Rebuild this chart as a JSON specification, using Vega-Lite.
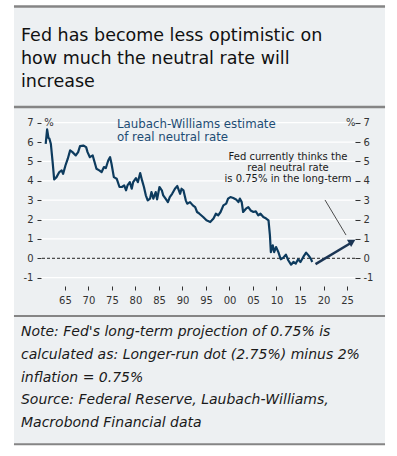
{
  "$schema": "https://vega.github.io/schema/vega-lite/v6.json",
  "width": 314,
  "height": 173,
  "autosize": {"type": "none"},
  "padding": {"left": 41, "top": 113, "right": 42, "bottom": 170},
  "background": "white",
  "config": {
    "view": {"stroke": null},
    "axis": {"labelOverlap": false, "labelFlush": false, "grid": false, "domain": false, "zindex": 1},
    "axisX": {"tickCount": 20, "labelOverlap": false, "labelFlush": false, "tickSize": 4, "tickColor": "#333333", "labelPadding": 5, "labelFont": "DejaVu Sans", "labelFontSize": 10, "labelColor": "#333333"}
  },
  "title": {
    "text": ["Fed has become less optimistic on", "how much the neutral rate will", "increase"],
    "anchor": "start",
    "frame": "group",
    "dx": -20,
    "offset": -85,
    "font": "DejaVu Sans",
    "fontSize": 17.5,
    "fontWeight": "normal",
    "color": "#111111",
    "lineHeight": 23
  },
  "datasets": {
    "neutral": [
      {"year": 1960.9, "value": 5.91}, {"year": 1961.2, "value": 6.65}, {"year": 1961.5, "value": 6.2}, {"year": 1961.7, "value": 6.17},
      {"year": 1962.0, "value": 5.9}, {"year": 1962.4, "value": 4.9}, {"year": 1962.7, "value": 4.07}, {"year": 1963.2, "value": 4.19},
      {"year": 1963.8, "value": 4.45}, {"year": 1964.3, "value": 4.54}, {"year": 1964.6, "value": 4.36}, {"year": 1965.1, "value": 4.79},
      {"year": 1965.6, "value": 5.14}, {"year": 1966.1, "value": 5.57}, {"year": 1966.6, "value": 5.48}, {"year": 1967.3, "value": 5.31},
      {"year": 1967.8, "value": 5.48}, {"year": 1968.2, "value": 5.79}, {"year": 1968.9, "value": 5.82}, {"year": 1969.5, "value": 5.74},
      {"year": 1969.8, "value": 5.48}, {"year": 1970.3, "value": 5.22}, {"year": 1970.9, "value": 5.31}, {"year": 1971.2, "value": 5.05},
      {"year": 1971.7, "value": 4.62}, {"year": 1972.3, "value": 4.54}, {"year": 1972.8, "value": 4.45}, {"year": 1973.3, "value": 4.71},
      {"year": 1973.7, "value": 4.66}, {"year": 1974.2, "value": 5.05}, {"year": 1974.6, "value": 5.22}, {"year": 1974.9, "value": 4.88},
      {"year": 1975.4, "value": 4.19}, {"year": 1976.0, "value": 4.11}, {"year": 1976.6, "value": 3.68}, {"year": 1977.1, "value": 3.68},
      {"year": 1977.6, "value": 3.76}, {"year": 1978.0, "value": 3.51}, {"year": 1978.3, "value": 3.76}, {"year": 1978.8, "value": 3.93},
      {"year": 1979.2, "value": 3.59}, {"year": 1979.5, "value": 3.93}, {"year": 1980.1, "value": 4.14}, {"year": 1980.5, "value": 3.93},
      {"year": 1981.0, "value": 4.4}, {"year": 1981.4, "value": 4.02}, {"year": 1981.8, "value": 3.68}, {"year": 1982.2, "value": 3.25},
      {"year": 1982.6, "value": 2.99}, {"year": 1983.1, "value": 3.08}, {"year": 1983.4, "value": 3.42}, {"year": 1983.8, "value": 3.08},
      {"year": 1984.3, "value": 3.42}, {"year": 1984.6, "value": 3.04}, {"year": 1985.1, "value": 3.68}, {"year": 1985.6, "value": 3.51},
      {"year": 1985.9, "value": 3.25}, {"year": 1986.4, "value": 3.08}, {"year": 1986.9, "value": 2.9}, {"year": 1987.3, "value": 3.16},
      {"year": 1987.8, "value": 3.33}, {"year": 1988.4, "value": 3.59}, {"year": 1988.9, "value": 3.73}, {"year": 1989.5, "value": 3.33},
      {"year": 1989.8, "value": 3.59}, {"year": 1990.2, "value": 3.51}, {"year": 1990.7, "value": 2.99}, {"year": 1991.0, "value": 2.82},
      {"year": 1991.6, "value": 2.9}, {"year": 1992.2, "value": 2.73}, {"year": 1992.7, "value": 2.64}, {"year": 1993.1, "value": 2.39},
      {"year": 1993.6, "value": 2.3}, {"year": 1994.4, "value": 2.13}, {"year": 1995.1, "value": 1.96}, {"year": 1995.9, "value": 1.87},
      {"year": 1996.6, "value": 2.05}, {"year": 1997.1, "value": 2.3}, {"year": 1997.6, "value": 2.22}, {"year": 1998.1, "value": 2.39},
      {"year": 1998.7, "value": 2.73}, {"year": 1999.3, "value": 2.82}, {"year": 1999.7, "value": 3.08}, {"year": 2000.2, "value": 3.16},
      {"year": 2000.8, "value": 3.11}, {"year": 2001.4, "value": 3.04}, {"year": 2001.9, "value": 2.9}, {"year": 2002.2, "value": 3.08},
      {"year": 2002.6, "value": 2.9}, {"year": 2002.9, "value": 2.39}, {"year": 2003.5, "value": 2.56}, {"year": 2004.0, "value": 2.64},
      {"year": 2004.5, "value": 2.47}, {"year": 2005.1, "value": 2.39}, {"year": 2005.6, "value": 2.42}, {"year": 2006.1, "value": 2.22},
      {"year": 2006.6, "value": 2.3}, {"year": 2007.2, "value": 2.13}, {"year": 2007.8, "value": 2.05}, {"year": 2008.3, "value": 1.96},
      {"year": 2008.6, "value": 1.19}, {"year": 2008.8, "value": 0.32}, {"year": 2009.2, "value": 0.67}, {"year": 2009.5, "value": 0.32},
      {"year": 2009.9, "value": 0.58}, {"year": 2010.4, "value": 0.32}, {"year": 2010.9, "value": -0.05}, {"year": 2011.4, "value": 0.02},
      {"year": 2012.0, "value": 0.19}, {"year": 2012.5, "value": -0.1}, {"year": 2013.1, "value": -0.33}, {"year": 2013.6, "value": -0.19},
      {"year": 2014.1, "value": -0.27}, {"year": 2014.6, "value": -0.05}, {"year": 2015.1, "value": -0.19}, {"year": 2015.7, "value": 0.07},
      {"year": 2016.3, "value": 0.29}, {"year": 2016.8, "value": 0.15}, {"year": 2017.3, "value": -0.02}, {"year": 2017.6, "value": -0.19}
    ],
    "fedArrow": [
      {"year": 2018.3, "value": -0.3},
      {"year": 2025.9, "value": 0.8}
    ],
    "ticks": [
      {"tick": -1}, {"tick": 1}, {"tick": 2}, {"tick": 3}, {"tick": 4}, {"tick": 5}, {"tick": 6}, {"tick": 7}
    ],
    "one": [{}]
  },
  "resolve": {"axis": {"y": "independent"}},
  "layer": [
    {
      "data": {"name": "one"},
      "mark": {"type": "rect", "color": "#edf0f2", "clip": false},
      "encoding": {
        "x": {"datum": 1954.15, "type": "quantitative", "scale": {"domain": [1959.9, 2026.7], "nice": false, "zero": false}},
        "x2": {"datum": 2033.09},
        "y": {"datum": 12.95, "type": "quantitative", "axis": null, "scale": {"domain": [-1.43, 7.5], "nice": false, "zero": false}},
        "y2": {"datum": -9.64}
      }
    },
    {
      "data": {"name": "one"},
      "mark": {"type": "rule", "color": "#858585", "strokeWidth": 2.5, "clip": false},
      "encoding": {
        "x": {"datum": 1954.15, "type": "quantitative"},
        "x2": {"datum": 2033.09},
        "y": {"datum": 13.0, "type": "quantitative", "axis": null}
      }
    },
    {
      "data": {"name": "one"},
      "mark": {"type": "rule", "color": "#858585", "strokeWidth": 2.5, "clip": false},
      "encoding": {
        "x": {"datum": 1954.15, "type": "quantitative"},
        "x2": {"datum": 2033.09},
        "y": {"datum": 7.81, "type": "quantitative", "axis": null}
      }
    },
    {
      "data": {"name": "one"},
      "mark": {"type": "rule", "color": "#858585", "strokeWidth": 2, "clip": false},
      "encoding": {
        "x": {"datum": 1954.15, "type": "quantitative"},
        "x2": {"datum": 2033.09},
        "y": {"datum": -2.98, "type": "quantitative", "axis": null}
      }
    },
    {
      "data": {"name": "one"},
      "mark": {"type": "rule", "color": "#858585", "strokeWidth": 2, "clip": false},
      "encoding": {
        "x": {"datum": 1954.15, "type": "quantitative"},
        "x2": {"datum": 2033.09},
        "y": {"datum": -9.6, "type": "quantitative", "axis": null}
      }
    },
    {
      "data": {"name": "ticks"},
      "mark": {"type": "rule", "color": "white", "strokeWidth": 1.2},
      "encoding": {
        "y": {
          "field": "tick", "type": "quantitative",
          "axis": {
            "orient": "right", "values": [-1, 0, 1, 2, 3, 4, 5, 6, 7], "tickCount": 20, "labelExpr": "toString(datum.value)",
            "domain": false, "grid": false, "tickSize": 5, "tickColor": "#333333", "labelPadding": 3, "labelOverlap": false,
            "labelFont": "DejaVu Sans", "labelFontSize": 10, "labelColor": "#333333", "title": null, "zindex": 1
          }
        }
      }
    },
    {
      "data": {"name": "one"},
      "mark": {"type": "rule", "color": "#222222", "strokeWidth": 1, "strokeDash": [3, 2]},
      "encoding": {
        "y": {"datum": 0, "type": "quantitative", "axis": null}
      }
    },
    {
      "data": {"name": "neutral"},
      "mark": {"type": "line", "color": "#0d3b5e", "strokeWidth": 2.2, "strokeJoin": "round"},
      "encoding": {
        "x": {
          "field": "year", "type": "quantitative",
          "axis": {
            "orient": "bottom",
            "values": [1965, 1970, 1975, 1980, 1985, 1990, 1995, 2000, 2005, 2010, 2015, 2020, 2025],
            "tickCount": 20,
            "labelExpr": "slice(toString(datum.value), 2)",
            "labelOverlap": false, "labelFlush": false,
            "domain": false, "grid": false, "tickSize": 4, "tickColor": "#333333", "labelPadding": 5,
            "labelFont": "DejaVu Sans", "labelFontSize": 10, "labelColor": "#333333", "zindex": 1,
            "title": null
          }
        },
        "y": {
          "field": "value", "type": "quantitative",
          "axis": {
            "orient": "left", "values": [-1, 0, 1, 2, 3, 4, 5, 6, 7], "tickCount": 20, "labelExpr": "toString(datum.value)",
            "domain": false, "grid": false, "tickSize": 4, "tickColor": "#333333", "labelPadding": 4, "labelOverlap": false,
            "labelFont": "DejaVu Sans", "labelFontSize": 10, "labelColor": "#333333", "title": null, "zindex": 1
          }
        }
      }
    },
    {
      "data": {"name": "fedArrow"},
      "mark": {"type": "line", "color": "#1b3554", "strokeWidth": 2.5},
      "encoding": {
        "x": {"field": "year", "type": "quantitative"},
        "y": {"field": "value", "type": "quantitative", "axis": null}
      }
    },
    {
      "data": {"name": "one"},
      "mark": {"type": "point", "shape": "triangle-up", "filled": true, "color": "#1b3554", "size": 70, "angle": 60, "opacity": 1, "clip": false},
      "encoding": {
        "x": {"datum": 2026.1, "type": "quantitative"},
        "y": {"datum": 0.86, "type": "quantitative", "axis": null}
      }
    },
    {
      "data": {"name": "one"},
      "mark": {"type": "rule", "color": "#222222", "strokeWidth": 0.8},
      "encoding": {
        "x": {"datum": 2020.32, "type": "quantitative"},
        "x2": {"datum": 2024.79},
        "y": {"datum": 3.01, "type": "quantitative", "axis": null},
        "y2": {"datum": 1.2}
      }
    },
    {
      "data": {"name": "one"},
      "mark": {"type": "text", "text": ["Fed currently thinks the", "real neutral rate", "is 0.75% in the long-term"], "align": "center", "baseline": "alphabetic", "lineHeight": 11.2, "font": "DejaVu Sans", "fontSize": 10, "color": "#1a1a1a"},
      "encoding": {
        "x": {"datum": 2012.45, "type": "quantitative"},
        "y": {"datum": 5.07, "type": "quantitative", "axis": null}
      }
    },
    {
      "data": {"name": "one"},
      "mark": {"type": "text", "text": ["Laubach-Williams estimate", "of real neutral rate"], "align": "left", "baseline": "alphabetic", "lineHeight": 13.3, "font": "DejaVu Sans", "fontSize": 11.8, "color": "#1d4c74"},
      "encoding": {
        "x": {"datum": 1976.06, "type": "quantitative"},
        "y": {"datum": 6.74, "type": "quantitative", "axis": null}
      }
    },
    {
      "data": {"name": "one"},
      "mark": {"type": "text", "text": "%", "align": "left", "baseline": "alphabetic", "font": "DejaVu Sans", "fontSize": 10, "color": "#333333", "clip": false},
      "encoding": {
        "x": {"datum": 1960.6, "type": "quantitative"},
        "y": {"datum": 6.82, "type": "quantitative", "axis": null}
      }
    },
    {
      "data": {"name": "one"},
      "mark": {"type": "text", "text": "%", "align": "right", "baseline": "alphabetic", "font": "DejaVu Sans", "fontSize": 10, "color": "#333333", "clip": false},
      "encoding": {
        "x": {"datum": 2026.8, "type": "quantitative"},
        "y": {"datum": 6.82, "type": "quantitative", "axis": null}
      }
    },
    {
      "data": {"name": "one"},
      "mark": {"type": "text", "text": ["Note: Fed's long-term projection of 0.75% is", "calculated as: Longer-run dot (2.75%) minus 2%", "inflation = 0.75%", "Source: Federal Reserve, Laubach-Williams,", "Macrobond Financial data"], "align": "left", "baseline": "alphabetic", "lineHeight": 22.8, "font": "DejaVu Sans", "fontStyle": "italic", "fontSize": 14, "color": "#1a1a1a", "clip": false},
      "encoding": {
        "x": {"datum": 1955.64, "type": "quantitative"},
        "y": {"datum": -4.01, "type": "quantitative", "axis": null}
      }
    }
  ]
}
